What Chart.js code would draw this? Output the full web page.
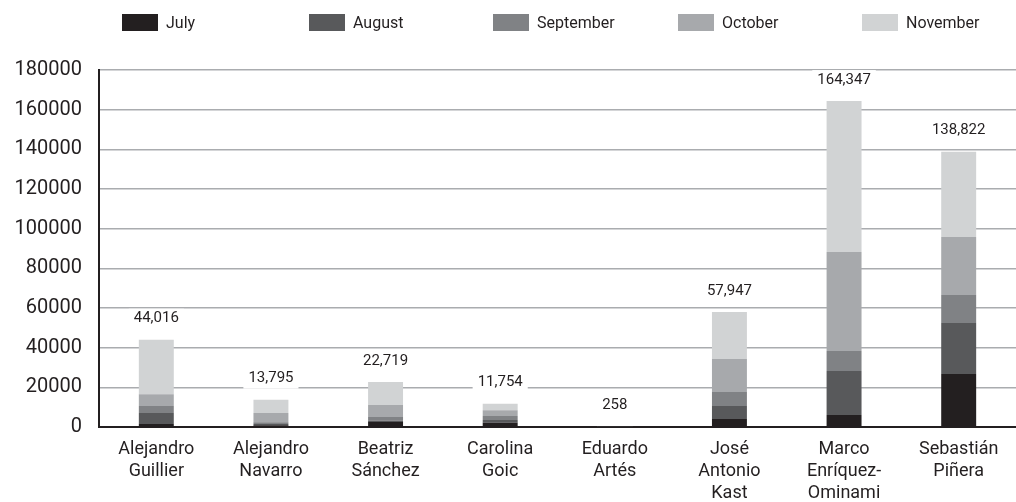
<!DOCTYPE html>
<html>
<head>
<meta charset="utf-8">
<script src="https://cdn.jsdelivr.net/npm/chart.js@4.4.1/dist/chart.umd.min.js"></script>
<style>
  html, body { margin: 0; padding: 0; background: #ffffff; }
  #wrap { position: relative; width: 1016px; height: 502px; }
  #legend { position: absolute; left: 0; top: 0; width: 1016px; height: 50px; font-family: Roboto, "DejaVu Sans", sans-serif; font-size: 16px; color: #231f20; }
  .item { position: absolute; top: 14px; height: 17px; display: flex; align-items: center; white-space: nowrap; }
  .box { width: 36px; height: 17px; margin-right: 8px; }
  canvas { position: absolute; left: 0; top: 0; }
</style>
</head>
<body>
<div id="wrap">
  <canvas id="c" width="1016" height="502"></canvas>
  <div id="legend"></div>
</div>
<script>
const categories = [
  ["Alejandro", "Guillier"],
  ["Alejandro", "Navarro"],
  ["Beatriz", "Sánchez"],
  ["Carolina", "Goic"],
  ["Eduardo", "Artés"],
  ["José", "Antonio", "Kast"],
  ["Marco", "Enríquez-", "Ominami"],
  ["Sebastián", "Piñera"]
];
const seriesNames = ["July", "August", "September", "October", "November"];
const july      = [1500, 850, 2500, 2100, 30, 4000, 6000, 26700];
const august    = [5550, 650, 600, 1400, 40, 6600, 22200, 25700];
const september = [3550, 850, 2000, 2000, 50, 7000, 10100, 14100];
const october   = [5950, 4700, 6000, 3000, 60, 16650, 49900, 29300];
const november  = [27466, 6745, 11619, 3254, 78, 23697, 76147, 43022];
const yTicks = [0, 20000, 40000, 60000, 80000, 100000, 120000, 140000, 160000, 180000];

const seriesValues = [july, august, september, october, november];
const colors = ["#231f20", "#58595b", "#808285", "#a7a9ac", "#d1d3d4"];
const legendX = [122, 309, 493, 678, 862];
const textColor = "#231f20";
const fontFamily = "Roboto, 'DejaVu Sans', sans-serif";

// HTML legend
const legendEl = document.getElementById('legend');
seriesNames.forEach((name, i) => {
  const it = document.createElement('div');
  it.className = 'item';
  it.style.left = legendX[i] + 'px';
  const b = document.createElement('div');
  b.className = 'box';
  b.style.background = colors[i];
  const t = document.createElement('span');
  t.textContent = name;
  it.appendChild(b); it.appendChild(t);
  legendEl.appendChild(it);
});

const totalsPlugin = {
  id: 'totals',
  afterDatasetsDraw(chart) {
    const ctx = chart.ctx;
    const xs = chart.scales.x, ys = chart.scales.y;
    ctx.save();
    ctx.font = "15px " + fontFamily;
    ctx.textAlign = 'center';
    ctx.textBaseline = 'middle';
    categories.forEach((c, i) => {
      let total = 0;
      chart.data.datasets.forEach(ds => total += ds.data[i]);
      const x = xs.getPixelForValue(i);
      const y = ys.getPixelForValue(total) - 21;
      const label = total.toLocaleString('en-US');
      const w = ctx.measureText(label).width + 10;
      ctx.fillStyle = '#ffffff';
      ctx.fillRect(x - w / 2, y - 10, w, 20);
      ctx.fillStyle = textColor;
      ctx.fillText(label, x, y);
    });
    ctx.restore();
  }
};

new Chart(document.getElementById('c'), {
  type: 'bar',
  data: {
    labels: categories,
    datasets: seriesNames.map((n, i) => ({
      label: n,
      data: seriesValues[i],
      backgroundColor: colors[i],
      borderWidth: 0,
      barPercentage: 0.305,
      categoryPercentage: 1.0
    }))
  },
  options: {
    responsive: false,
    animation: false,
    devicePixelRatio: 1,
    layout: { padding: { top: 70, right: 0, left: 0, bottom: 0 } },
    plugins: { legend: { display: false }, tooltip: { enabled: false } },
    scales: {
      x: {
        stacked: true,
        offset: true,
        grid: { display: false, drawTicks: false },
        border: { display: true, color: '#231f20', width: 2 },
        ticks: {
          color: textColor,
          font: { family: fontFamily, size: 18, lineHeight: 1.22 },
          padding: 12,
          maxRotation: 0,
          autoSkip: false
        },
        afterFit(scale) { scale.height = 75; }
      },
      y: {
        stacked: true,
        min: 0,
        max: 180000,
        afterBuildTicks(scale) { scale.ticks = yTicks.map(v => ({ value: v })); },
        grid: { color: '#aaacaf', lineWidth: 1.5, drawTicks: false },
        border: { display: true, color: '#231f20', width: 2 },
        ticks: {
          color: textColor,
          font: { family: fontFamily, size: 20 },
          padding: 17,
          callback: v => String(v)
        },
        afterFit(scale) { scale.width = 99; }
      }
    }
  },
  plugins: [totalsPlugin]
});
</script>
</body>
</html>
